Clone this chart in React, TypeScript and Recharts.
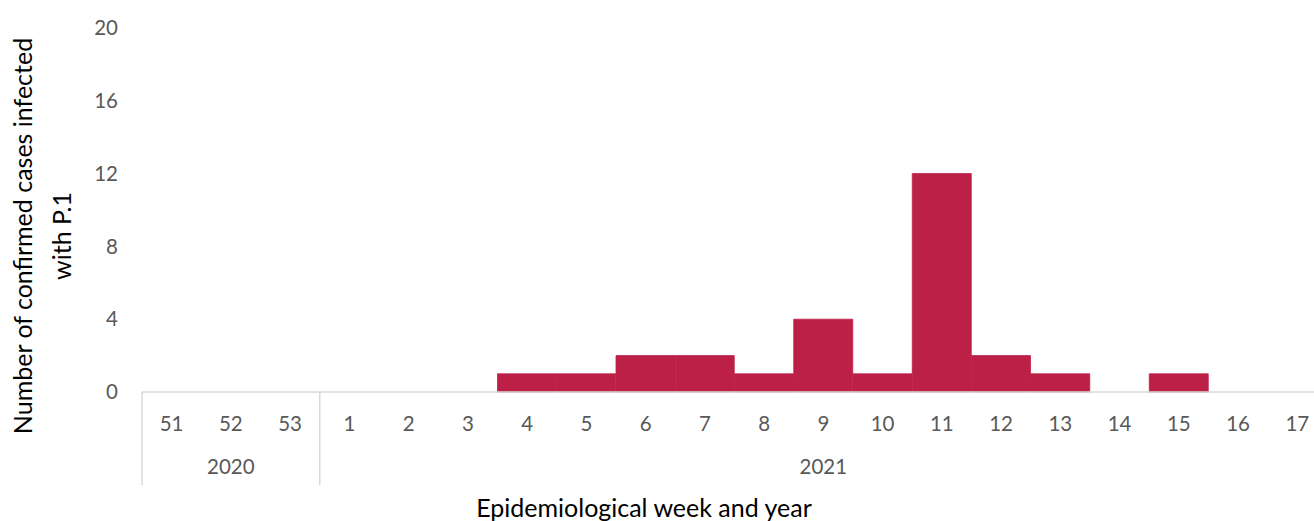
import { BarChart, Bar, XAxis, YAxis } from 'recharts';

const weeks = ['51', '52', '53', '1', '2', '3', '4', '5', '6', '7', '8', '9', '10', '11', '12', '13', '14', '15', '16', '17'];
const years = ['2020', '2020', '2020', '2021', '2021', '2021', '2021', '2021', '2021', '2021', '2021', '2021', '2021', '2021', '2021', '2021', '2021', '2021', '2021', '2021'];
const cases = [0, 0, 0, 0, 0, 0, 1, 1, 2, 2, 1, 4, 1, 12, 2, 1, 0, 1, 0, 0];
const yTicks = [0, 4, 8, 12, 16, 20];

const data = weeks.map((w, i) => ({ week: w, year: years[i], cases: cases[i] }));

const FONT = 'Lato, "Open Sans", sans-serif';
const TICK = '#595959';
const GRID = '#d9d9d9';
const BAR = '#bc2047';
const W = 1314;
const H = 521;
// the plot runs a little past the right edge of the frame
const CHART_W = 1327;
const LEFT = 142;
const PLOT_BOTTOM = 392;
const WEEK_ROW = 46;
const YEAR_ROW = 47;

// second row: year label centred on its run of weeks, divider at the start of each year
const YearTick = (props: any) => {
  const { x, index, payload } = props;
  const band = (CHART_W - LEFT) / weeks.length;
  const yr = payload.value;
  const first = years.indexOf(yr);
  const last = years.lastIndexOf(yr);
  if (index !== first) return <g />;
  const lx = x - band / 2;
  const cx = x + ((last - first) / 2) * band;
  return (
    <g>
      <line x1={lx} x2={lx} y1={PLOT_BOTTOM} y2={PLOT_BOTTOM + WEEK_ROW + YEAR_ROW} stroke={GRID} strokeWidth={1.5} />
      <text x={cx} y={PLOT_BOTTOM + WEEK_ROW + 36} textAnchor="middle" fill={TICK} fontSize={20.5} fontFamily={FONT}>
        {yr}
      </text>
    </g>
  );
};

const XTitle = () => (
  <text x={644} y={517} textAnchor="middle" fill="#000" fontSize={25} fontFamily={FONT}>
    Epidemiological week and year
  </text>
);

const YTitle = () => (
  <text transform="translate(0, 236) rotate(-90)" textAnchor="middle" fill="#000" fontSize={25} fontFamily={FONT}>
    <tspan x={0} y={32}>Number of confirmed cases infected</tspan>
    <tspan x={0} y={71}>with P.1</tspan>
  </text>
);

export default function App() {
  return (
    <div style={{ position: 'absolute', left: 0, top: 0, width: W, height: H, overflow: 'hidden', background: '#fff' }}>
      <BarChart width={CHART_W} height={H} data={data} margin={{ top: 28, right: 0, left: 0, bottom: H - PLOT_BOTTOM - WEEK_ROW - YEAR_ROW }} barCategoryGap={0}>
        <XAxis
          xAxisId="week"
          dataKey="week"
          interval={0}
          height={WEEK_ROW}
          tickLine={false}
          axisLine={{ stroke: GRID, strokeWidth: 1.5 }}
          tick={{ fill: TICK, fontSize: 20.5, fontFamily: FONT }}
          tickSize={0}
          tickMargin={24}
        />
        <XAxis
          xAxisId="year"
          dataKey="year"
          interval={0}
          height={YEAR_ROW}
          tickLine={false}
          axisLine={false}
          tick={<YearTick />}
          label={<XTitle />}
        />
        <YAxis
          width={LEFT}
          domain={[0, 20]}
          ticks={yTicks}
          interval={0}
          tickLine={false}
          axisLine={false}
          tickSize={0}
          tickMargin={24}
          tick={{ fill: TICK, fontSize: 20.5, fontFamily: FONT }}
          label={<YTitle />}
        />
        <Bar xAxisId="week" dataKey="cases" fill={BAR} stroke={BAR} strokeWidth={0.8} isAnimationActive={false} />
      </BarChart>
    </div>
  );
}
